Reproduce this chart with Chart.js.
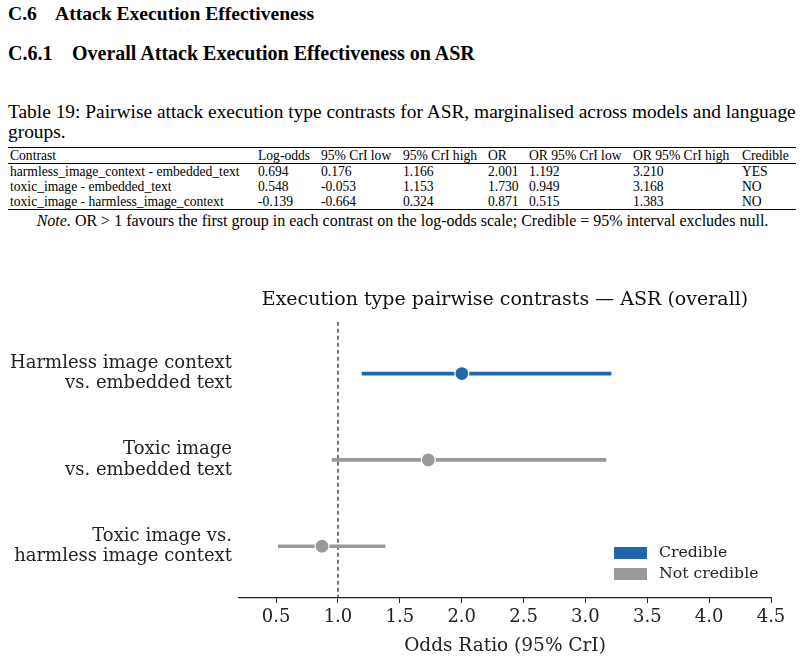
<!DOCTYPE html>
<html>
<head>
<meta charset="utf-8">
<script src="https://cdn.jsdelivr.net/npm/chart.js@4.4.1/dist/chart.umd.min.js"></script>
<style>
  html, body { margin: 0; padding: 0; background: #fff; }
  body { width: 805px; height: 660px; position: relative; overflow: hidden;
         font-family: 'Liberation Serif', 'Times New Roman', serif; color: #000; }
  .h { position: absolute; left: 8px; font-weight: bold; line-height: 22px; white-space: nowrap; }
  .h span { display: inline-block; }
  .cap { position: absolute; left: 8px; top: 102px; font-size: 19.4px; line-height: 20px; white-space: nowrap; }
  table { position: absolute; left: 8px; top: 147px; width: 788px; border-collapse: collapse;
          table-layout: fixed; font-size: 13.6px; line-height: 15px; }
  table td, table th { padding: 0 0 0 2px; font-weight: normal; text-align: left; white-space: nowrap; height: 15px; }
  thead tr { border-top: 1.3px solid #000; border-bottom: 0.8px solid #000; }
  tbody tr:last-child { border-bottom: 1.3px solid #000; }
  .note { position: absolute; left: 0; width: 805px; top: 213px; text-align: center; font-size: 16px; line-height: 16px; }
  #wrap { position: absolute; left: 0; top: 280px; width: 805px; height: 380px; }
</style>
</head>
<body>
<div class="h" style="top:3px; font-size:19.6px"><span style="width:47px">C.6</span>Attack Execution Effectiveness</div>
<div class="h" style="top:42px; font-size:20px"><span style="width:64px">C.6.1</span>Overall Attack Execution Effectiveness on ASR</div>
<div class="cap">Table 19: Pairwise attack execution type contrasts for ASR, marginalised across models and language<br>groups.</div>
<table id="tbl">
  <colgroup>
    <col style="width:248px"><col style="width:63px"><col style="width:82px"><col style="width:85px">
    <col style="width:41px"><col style="width:104px"><col style="width:109px"><col style="width:56px">
  </colgroup>
  <thead><tr id="thead"></tr></thead>
  <tbody id="tbody"></tbody>
</table>
<div class="note"><i>Note.</i> OR &gt; 1 favours the first group in each contrast on the log-odds scale; Credible = 95% interval excludes null.</div>
<div id="wrap"><canvas id="chart"></canvas></div>

<script>
// table values
var contrasts = ['harmless_image_context - embedded_text', 'toxic_image - embedded_text', 'toxic_image - harmless_image_context']
var logOdds   = [0.694, 0.548, -0.139]
var logLow    = [0.176, -0.053, -0.664]
var logHigh   = [1.166, 1.153, 0.324]
var oddsRatio = [2.001, 1.730, 0.871]
var orLow     = [1.192, 0.949, 0.515]
var orHigh    = [3.210, 3.168, 1.383]
var credible  = [true, false, false]
var headers   = ['Contrast', 'Log-odds', '95% CrI low', '95% CrI high', 'OR', 'OR 95% CrI low', 'OR 95% CrI high', 'Credible']

// chart labels
var rowLabels    = [['Harmless image context', 'vs. embedded text'], ['Toxic image', 'vs. embedded text'], ['Toxic image vs.', 'harmless image context']]
var xTicks       = [0.5, 1.0, 1.5, 2.0, 2.5, 3.0, 3.5, 4.0, 4.5]
var legendLabels = ['Credible', 'Not credible']
var nullOR       = 1

var blue = '#2166ac'
var grey = '#999999'
var chartFont = "'DejaVu Serif', serif"

// build table
document.getElementById('thead').innerHTML = headers.map(function (h) { return '<th>' + h + '</th>' }).join('')
document.getElementById('tbody').innerHTML = contrasts.map(function (c, i) {
  var cells = [c, logOdds[i], logLow[i], logHigh[i], oddsRatio[i], orLow[i], orHigh[i]].map(function (v, j) {
    return '<td>' + (j === 0 ? v : v.toFixed(3)) + '</td>'
  })
  cells.push('<td>' + (credible[i] ? 'YES' : 'NO') + '</td>')
  return '<tr>' + cells.join('') + '</tr>'
}).join('')

// datasets: one interval line per row, then the points
var datasets = []
contrasts.forEach(function (c, i) {
  datasets.push({
    type: 'line',
    data: [{ x: orLow[i], y: i }, { x: orHigh[i], y: i }],
    borderColor: credible[i] ? blue : grey,
    borderWidth: 3.6,
    pointRadius: 0,
    order: 2
  })
})
datasets.push({
  type: 'line',
  data: [{ x: nullOR, y: -0.6 }, { x: nullOR, y: 2.6 }],
  borderColor: '#000',
  borderWidth: 1.1,
  borderDash: [4, 3],
  pointRadius: 0,
  order: 3
})
datasets.push({
  type: 'scatter',
  data: oddsRatio.map(function (v, i) { return { x: v, y: i } }),
  backgroundColor: credible.map(function (c) { return c ? blue : grey }),
  borderColor: '#fff',
  borderWidth: 1.2,
  pointRadius: 7,
  order: 1
})

var legendPlugin = {
  id: 'boxLegend',
  afterDraw: function (chart) {
    var ctx = chart.ctx
    var colors = [blue, grey]
    ctx.save()
    ctx.font = '15.7px ' + chartFont
    ctx.textBaseline = 'middle'
    legendLabels.forEach(function (l, i) {
      var y = 267 + i * 21
      ctx.fillStyle = colors[i]
      ctx.fillRect(614, y, 33, 12)
      ctx.fillStyle = '#222'
      ctx.fillText(l, 659, y + 6)
    })
    ctx.restore()
  }
}

new Chart(document.getElementById('chart'), {
  type: 'scatter',
  data: { datasets: datasets },
  plugins: [legendPlugin],
  options: {
    responsive: true,
    maintainAspectRatio: false,
    animation: false,
    layout: { padding: { left: 0, right: 34, top: 0, bottom: 0 } },
    plugins: {
      legend: { display: false },
      tooltip: { enabled: false },
      title: {
        display: true,
        fullSize: false,
        text: 'Execution type pairwise contrasts — ASR (overall)',
        color: '#111',
        font: { family: chartFont, size: 19, weight: 'normal' },
        padding: { top: 9, bottom: 10 }
      }
    },
    scales: {
      x: {
        type: 'linear',
        min: 0.2,
        max: 4.5,
        afterBuildTicks: function (scale) {
          scale.ticks = xTicks.map(function (v) { return { value: v } })
        },
        afterFit: function (scale) { scale.height = 62 },
        grid: { drawOnChartArea: false, drawTicks: true, tickLength: 5, color: '#222' },
        border: { display: true, color: '#222', width: 1.3 },
        ticks: {
          color: '#222',
          padding: 4,
          maxRotation: 0,
          font: { family: chartFont, size: 18 },
          callback: function (v) { return Number(v).toFixed(1) }
        },
        title: {
          display: true,
          text: 'Odds Ratio (95% CrI)',
          color: '#222',
          font: { family: chartFont, size: 18.5 },
          padding: { top: 0, bottom: 3 }
        }
      },
      y: {
        type: 'linear',
        reverse: true,
        min: -0.6,
        max: 2.6,
        afterBuildTicks: function (scale) {
          scale.ticks = rowLabels.map(function (l, i) { return { value: i } })
        },
        afterFit: function (scale) { scale.width = 239 },
        grid: { display: false, drawTicks: false },
        border: { display: false },
        ticks: {
          color: '#222',
          padding: 7,
          font: { family: chartFont, size: 18, lineHeight: 1.12 },
          callback: function (v) { return rowLabels[v] }
        }
      }
    }
  }
})
</script>
</body>
</html>
